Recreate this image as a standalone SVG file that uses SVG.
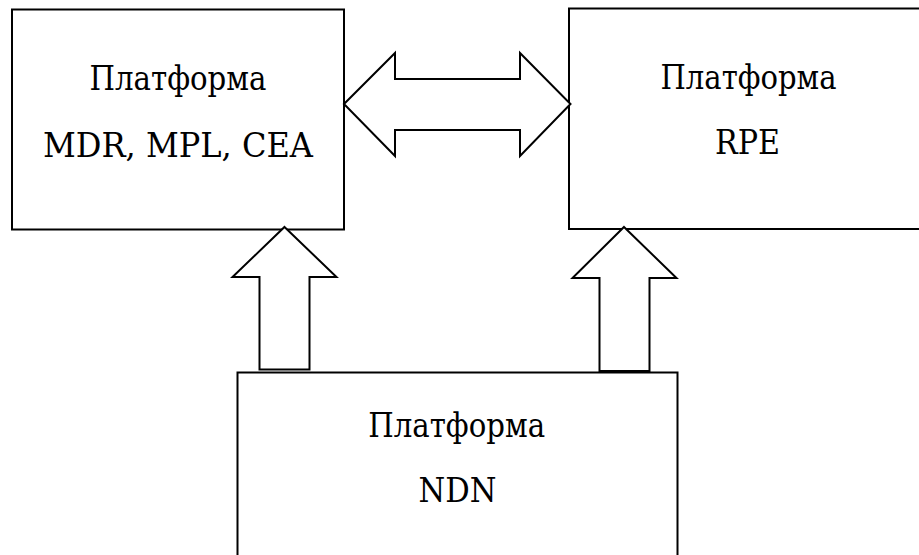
<svg xmlns="http://www.w3.org/2000/svg" width="919" height="555" viewBox="0 0 919 555">
<style>
.box{fill:#fff;stroke:#000;stroke-width:2}
.arr{fill:#fff;stroke:#000;stroke-width:2;stroke-linejoin:miter}
.t{font-family:'DejaVu Serif',serif;font-size:33px;fill:#000;text-anchor:middle}
</style>
<rect width="919" height="555" fill="#fff"/>
<g id="node-mdr">
<rect class="box" x="12" y="9.5" width="332" height="220"/>
<text class="t" x="178" y="90" textLength="177" lengthAdjust="spacingAndGlyphs">Платформа</text>
<text class="t" x="178" y="156.5" textLength="270" lengthAdjust="spacingAndGlyphs">MDR, MPL, CEA</text>
</g>
<g id="node-rpe">
<rect class="box" x="569" y="8.5" width="360" height="220.5"/>
<text class="t" x="748.5" y="89" textLength="176" lengthAdjust="spacingAndGlyphs">Платформа</text>
<text class="t" x="747.5" y="154" textLength="65" lengthAdjust="spacingAndGlyphs">RPE</text>
</g>
<g id="node-ndn">
<rect class="box" x="237.5" y="372.5" width="440" height="200"/>
<text class="t" x="456.7" y="436.5" textLength="177" lengthAdjust="spacingAndGlyphs">Платформа</text>
<text class="t" x="457.5" y="501.5" textLength="78" lengthAdjust="spacingAndGlyphs">NDN</text>
</g>
<g id="connectors">
<polygon class="arr" points="344,104 395,53 395,79 520,79 520,53 570.5,104 520,156 520,130 395,130 395,156"/>
<polygon class="arr" points="284.5,227 336.5,277 309.5,277 309.5,369.5 259.5,369.5 259.5,277 232.5,277"/>
<polygon class="arr" points="624,227 676.5,278 649.5,278 649.5,371 599.5,371 599.5,278 572.5,278"/>
</g>
</svg>
